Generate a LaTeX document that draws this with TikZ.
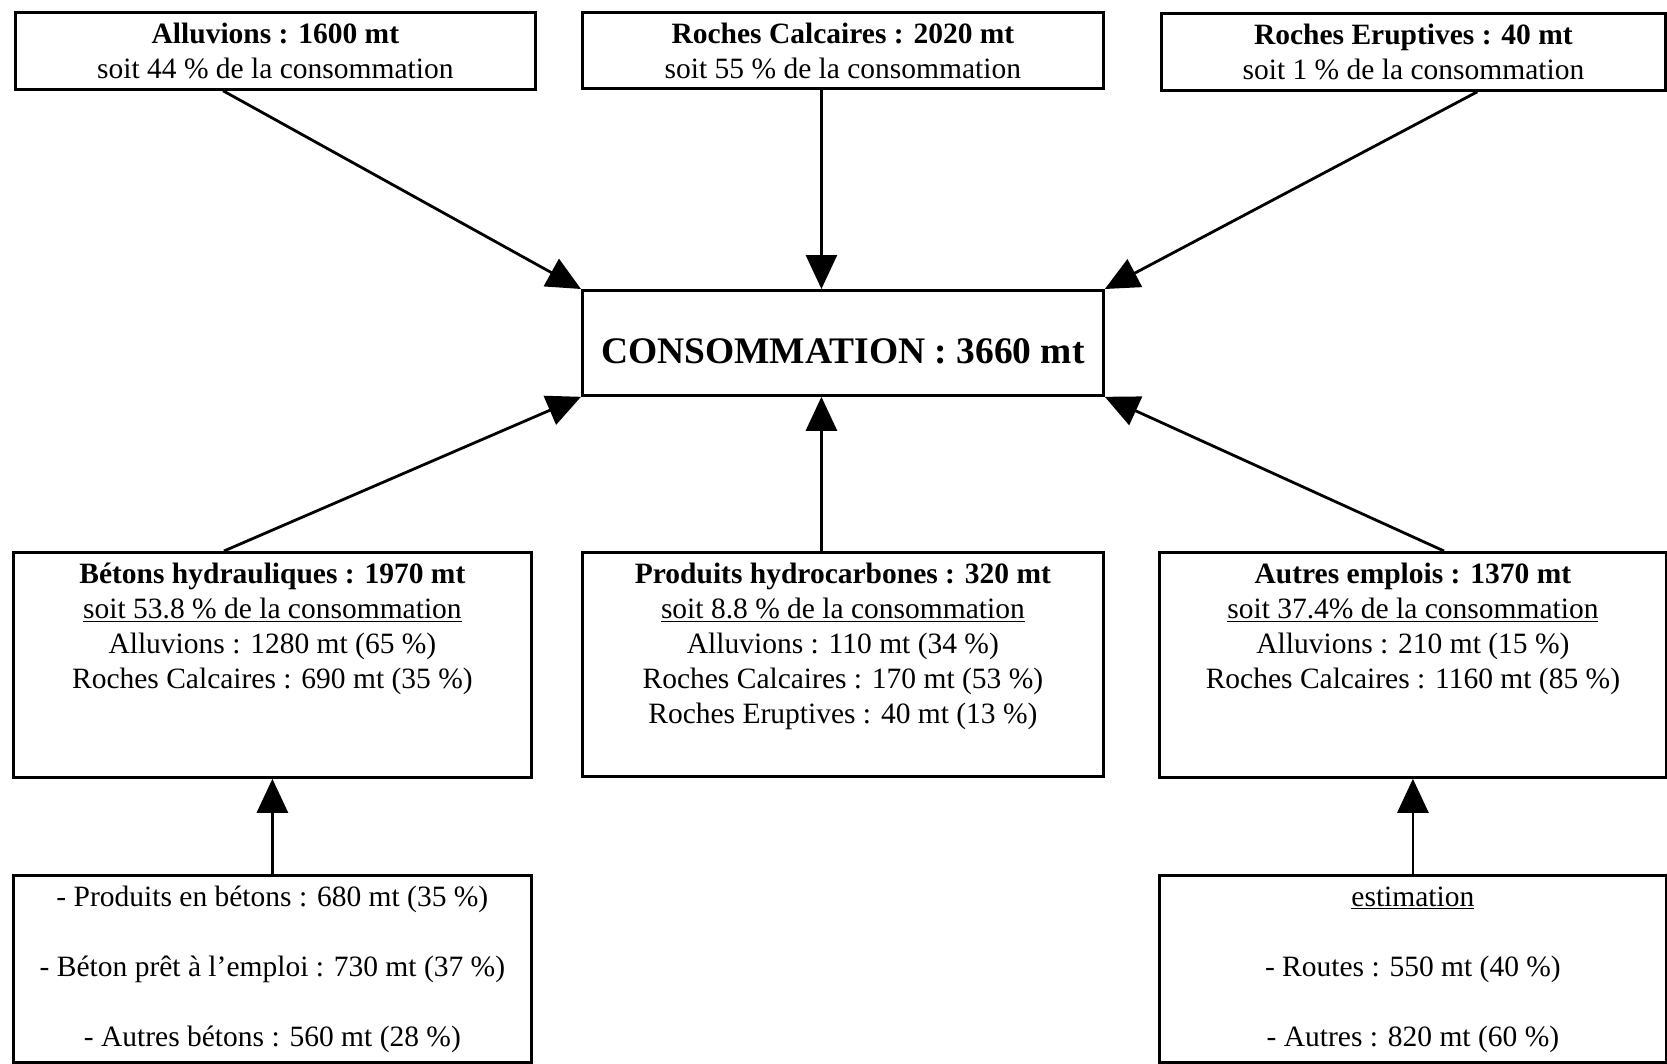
\documentclass[tikz,border=0pt]{standalone}
\usepackage{fontspec}
\setmainfont{Liberation Serif}
\usepackage{tikz}
\usetikzlibrary{arrows.meta,calc,positioning}

\tikzset{
  boite/.style={draw,line width=2.8pt,inner sep=0pt,anchor=north west},
  fleche/.style={-{Triangle[length=34pt,width=31pt]},line width=2.8pt}
}

\begin{document}
\begin{tikzpicture}[x=1pt,y=-1pt,every node/.style={font=\fontsize{29.5}{35}\selectfont}]
        \useasboundingbox (0,0) rectangle (1667,1063);
        % sources
        \node[boite] (allu) at (14,11) {
            \begin{minipage}[t][77pt][t]{520pt}
                \centering\vspace*{7pt}
                \strut\textbf{Alluvions : 1600 mt}\\
                soit 44 \% de la consommation
            \end{minipage}
        };
        \node[boite] (calc) at (581,11) {
            \begin{minipage}[t][76pt][t]{521pt}
                \centering\vspace*{7pt}
                \strut\textbf{Roches Calcaires : 2020 mt}\\
                soit 55 \% de la consommation
            \end{minipage}
        };
        \node[boite] (erup) at (1160,12) {
            \begin{minipage}[t][77pt][t]{504pt}
                \centering\vspace*{7pt}
                \strut\textbf{Roches Eruptives : 40 mt}\\
                soit 1 \% de la consommation
            \end{minipage}
        };
        % centre
        \node[boite] (cons) at (581,289) {
            \begin{minipage}[t][105pt][t]{521pt}
                \centering\vspace*{42pt}
                \fontsize{37.5}{45}\selectfont\strut\textbf{CONSOMMATION : 3660 mt}
            \end{minipage}
        };
        % emplois
        \node[boite] (beton) at (12,551) {
            \begin{minipage}[t][225pt][t]{518pt}
                \centering\vspace*{7pt}
                \strut\textbf{Bétons hydrauliques : 1970 mt}\\
                \underline{soit 53.8 \% de la consommation}\\
                Alluvions : 1280 mt (65 \%)\\
                Roches Calcaires : 690 mt (35 \%)
            \end{minipage}
        };
        \node[boite] (prod) at (581,551) {
            \begin{minipage}[t][224pt][t]{521pt}
                \centering\vspace*{7pt}
                \strut\textbf{Produits hydrocarbones : 320 mt}\\
                \underline{soit 8.8 \% de la consommation}\\
                Alluvions : 110 mt (34 \%)\\
                Roches Calcaires : 170 mt (53 \%)\\
                Roches Eruptives : 40 mt (13 \%)
            \end{minipage}
        };
        \node[boite] (autres) at (1158,551) {
            \begin{minipage}[t][225pt][t]{507pt}
                \centering\vspace*{7pt}
                \strut\textbf{Autres emplois : 1370 mt}\\
                \underline{soit 37.4\% de la consommation}\\
                Alluvions : 210 mt (15 \%)\\
                Roches Calcaires : 1160 mt (85 \%)
            \end{minipage}
        };
        % details
        \node[boite] (pbeton) at (12,874) {
            \begin{minipage}[t][187pt][t]{518pt}
                \centering\vspace*{7pt}
                \strut- Produits en bétons : 680 mt (35 \%)\\[35pt]
                - Béton prêt à l’emploi : 730 mt (37 \%)\\[35pt]
                - Autres bétons : 560 mt (28 \%)
            \end{minipage}
        };
        \node[boite] (estim) at (1158,874) {
            \begin{minipage}[t][187pt][t]{507pt}
                \centering\vspace*{7pt}
                \strut\underline{estimation}\\[35pt]
                - Routes : 550 mt (40 \%)\\[35pt]
                - Autres : 820 mt (60 \%)
            \end{minipage}
        };
        % fleches
        \coordinate (haut) at ($(calc.south west)!0.459!(calc.south east)$);
        \coordinate (bas) at ($(prod.north west)!0.459!(prod.north east)$);
        \draw[fleche] ($(allu.south west)!0.4!(allu.south east)$) -- (cons.north west);
        \draw[fleche] (haut) -- (haut |- cons.north);
        \draw[fleche] ($(erup.south west)!0.626!(erup.south east)$) -- (cons.north east);
        \draw[fleche] ($(beton.north west)!0.407!(beton.north east)$) -- (cons.south west);
        \draw[fleche] (bas) -- (bas |- cons.south);
        \draw[fleche] ($(autres.north west)!0.561!(autres.north east)$) -- (cons.south east);
        \draw[fleche] (pbeton.north) -- (beton.south);
        \draw[fleche] (estim.north) -- (autres.south);
\end{tikzpicture}
\end{document}
